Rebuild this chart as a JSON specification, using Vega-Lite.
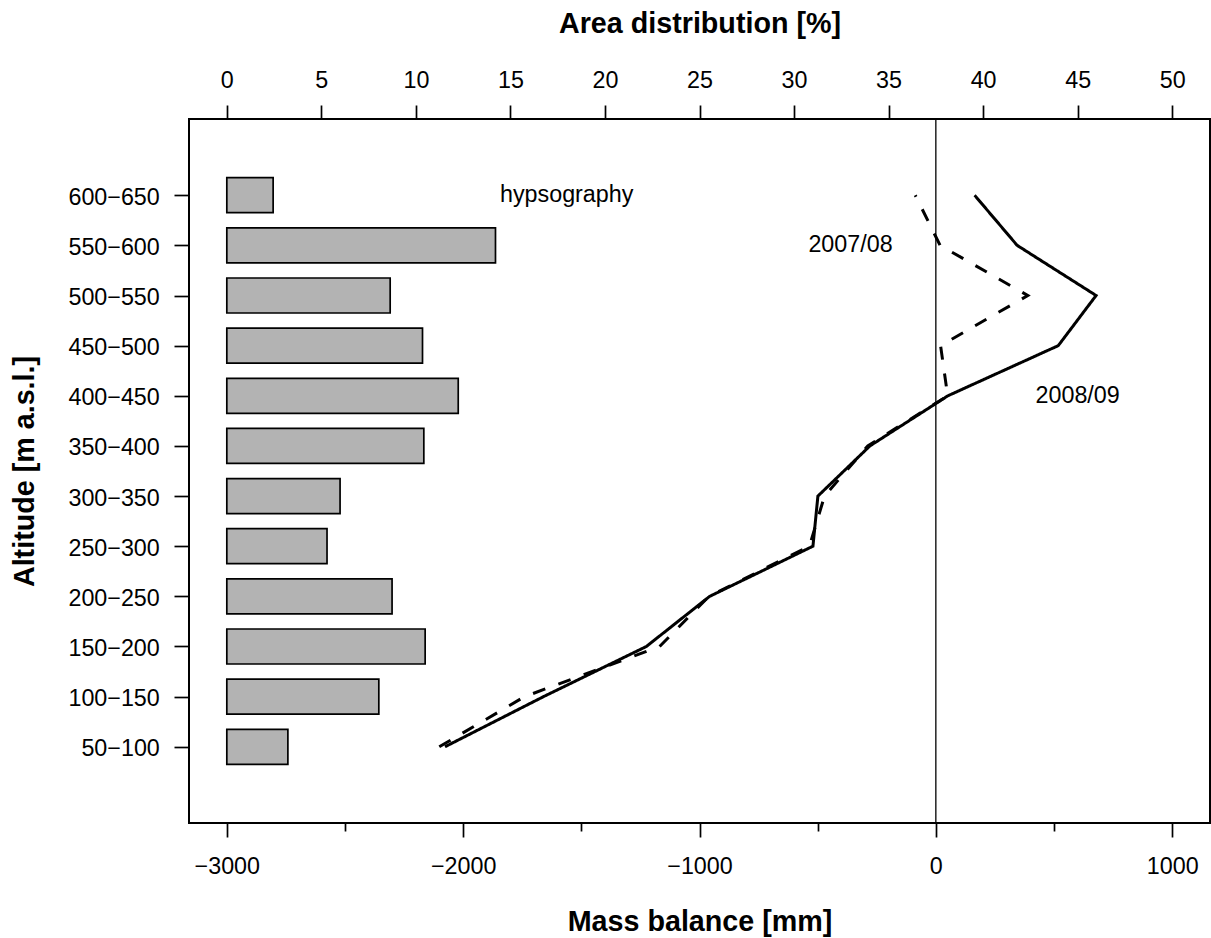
{
  "$schema": "https://vega.github.io/schema/vega-lite/v6.json",
  "width": 1021,
  "height": 704,
  "autosize": {"type": "none"},
  "padding": {"left": 189, "top": 119, "right": 1, "bottom": 115},
  "background": "white",
  "config": {
    "view": {"stroke": "black", "strokeWidth": 2},
    "font": "Liberation Sans",
    "axis": {
      "domain": false,
      "grid": false,
      "tickColor": "black",
      "tickWidth": 1.7,
      "labelColor": "black",
      "labelFont": "Liberation Sans",
      "labelFontSize": 23.3,
      "labelFlush": false,
      "labelOverlap": false,
      "titleFont": "Liberation Sans",
      "titleFontSize": 28.7,
      "titleFontWeight": "bold",
      "titleColor": "black"
    }
  },
  "datasets": {
    "hyps": [
      {"alt": "600−650", "lo": 600, "pct": 2.45},
      {"alt": "550−600", "lo": 550, "pct": 14.21},
      {"alt": "500−550", "lo": 500, "pct": 8.64},
      {"alt": "450−500", "lo": 450, "pct": 10.35},
      {"alt": "400−450", "lo": 400, "pct": 12.24},
      {"alt": "350−400", "lo": 350, "pct": 10.42},
      {"alt": "300−350", "lo": 300, "pct": 5.99},
      {"alt": "250−300", "lo": 250, "pct": 5.30},
      {"alt": "200−250", "lo": 200, "pct": 8.74},
      {"alt": "150−200", "lo": 150, "pct": 10.49},
      {"alt": "100−150", "lo": 100, "pct": 8.04},
      {"alt": "50−100", "lo": 50, "pct": 3.23}
    ],
    "mb": [
      {"year": "2008/09", "alt": "50−100", "lo": 50, "mb": -2077},
      {"year": "2008/09", "alt": "100−150", "lo": 100, "mb": -1660},
      {"year": "2008/09", "alt": "150−200", "lo": 150, "mb": -1225},
      {"year": "2008/09", "alt": "200−250", "lo": 200, "mb": -957},
      {"year": "2008/09", "alt": "250−300", "lo": 250, "mb": -520},
      {"year": "2008/09", "alt": "300−350", "lo": 300, "mb": -499},
      {"year": "2008/09", "alt": "350−400", "lo": 350, "mb": -279},
      {"year": "2008/09", "alt": "400−450", "lo": 400, "mb": 51},
      {"year": "2008/09", "alt": "450−500", "lo": 450, "mb": 518},
      {"year": "2008/09", "alt": "500−550", "lo": 500, "mb": 678},
      {"year": "2008/09", "alt": "550−600", "lo": 550, "mb": 344},
      {"year": "2008/09", "alt": "600−650", "lo": 600, "mb": 164},
      {"year": "2007/08", "alt": "50−100", "lo": 50, "mb": -2101},
      {"year": "2007/08", "alt": "100−150", "lo": 100, "mb": -1740},
      {"year": "2007/08", "alt": "150−200", "lo": 150, "mb": -1169},
      {"year": "2007/08", "alt": "200−250", "lo": 200, "mb": -960},
      {"year": "2007/08", "alt": "250−300", "lo": 250, "mb": -535},
      {"year": "2007/08", "alt": "300−350", "lo": 300, "mb": -471},
      {"year": "2007/08", "alt": "350−400", "lo": 350, "mb": -288},
      {"year": "2007/08", "alt": "400−450", "lo": 400, "mb": 50},
      {"year": "2007/08", "alt": "450−500", "lo": 450, "mb": 20},
      {"year": "2007/08", "alt": "500−550", "lo": 500, "mb": 389},
      {"year": "2007/08", "alt": "550−600", "lo": 550, "mb": 18},
      {"year": "2007/08", "alt": "600−650", "lo": 600, "mb": -87}
    ],
    "labels": [
      {"label": "hypsography", "lo": 600, "mb": -1562},
      {"label": "2007/08", "lo": 550, "mb": -361},
      {"label": "2008/09", "lo": 400, "mb": 600}
    ]
  },
  "resolve": {"scale": {"x": "independent"}},
  "layer": [
    {
      "data": {"name": "hyps"},
      "mark": {"type": "bar", "orient": "horizontal", "size": 35, "fill": "#b3b3b3", "stroke": "black", "strokeWidth": 1.7},
      "encoding": {
        "x": {
          "field": "pct",
          "type": "quantitative",
          "scale": {"domain": [-2, 52], "nice": false, "zero": false},
          "axis": {
            "orient": "top",
            "title": "Area distribution [%]",
            "values": [0, 5, 10, 15, 20, 25, 30, 35, 40, 45, 50],
            "format": "d",
            "tickSize": 14,
            "labelPadding": 13,
            "titleX": 510.5,
            "titleY": -87,
            "titleBaseline": "alphabetic",
            "titleAlign": "center"
          }
        },
        "y": {
          "field": "lo",
          "type": "quantitative",
          "scale": {"domain": [-26, 676], "nice": false, "zero": false, "padding": 0},
          "axis": {
            "orient": "left",
            "title": "Altitude [m a.s.l.]",
            "values": [50, 100, 150, 200, 250, 300, 350, 400, 450, 500, 550, 600],
            "labelExpr": "datum.value + '−' + (datum.value + 50)",
            "tickSize": 15,
            "labelPadding": 14.7,
            "labelOffset": 2,
            "titleX": -156,
            "titleY": 352,
            "titleAngle": -90,
            "titleBaseline": "alphabetic",
            "titleAlign": "center"
          }
        }
      }
    },
    {
      "layer": [
        {
          "data": {"values": [{"mb": 0}]},
          "mark": {"type": "rule", "color": "black", "strokeWidth": 1.3},
          "encoding": {
            "x": {"field": "mb", "type": "quantitative"}
          }
        },
        {
          "data": {"name": "mb"},
          "mark": {"type": "line", "color": "black", "strokeWidth": 3},
          "encoding": {
            "x": {
              "field": "mb",
              "type": "quantitative",
              "scale": {"domain": [-3160, 1160], "nice": false, "zero": false},
              "axis": {
                "orient": "bottom",
                "title": "Mass balance [mm]",
                "values": [-3000, -2500, -2000, -1500, -1000, -500, 0, 500, 1000],
                "format": "d",
                "labelExpr": "datum.value % 1000 === 0 ? datum.label : ''",
                "tickSize": {"condition": {"test": "datum.value % 1000 === 0", "value": 14}, "value": 8},
                "labelPadding": 18.8,
                "titleX": 510.5,
                "titleY": 107,
                "titleBaseline": "alphabetic",
                "titleAlign": "center"
              }
            },
            "y": {"field": "lo", "type": "quantitative"},
            "detail": {"field": "year", "type": "nominal"},
            "strokeDash": {
              "field": "year",
              "type": "nominal",
              "scale": {"domain": ["2007/08", "2008/09"], "range": [[13, 14], [1, 0]]},
              "legend": null
            },
            "order": {"field": "lo", "type": "quantitative"}
          }
        },
        {
          "data": {"name": "labels"},
          "mark": {"type": "text", "align": "center", "baseline": "middle", "fontSize": 23.3, "font": "Liberation Sans", "color": "black"},
          "encoding": {
            "x": {"field": "mb", "type": "quantitative"},
            "y": {"field": "lo", "type": "quantitative"},
            "text": {"field": "label", "type": "nominal"}
          }
        }
      ]
    }
  ]
}
